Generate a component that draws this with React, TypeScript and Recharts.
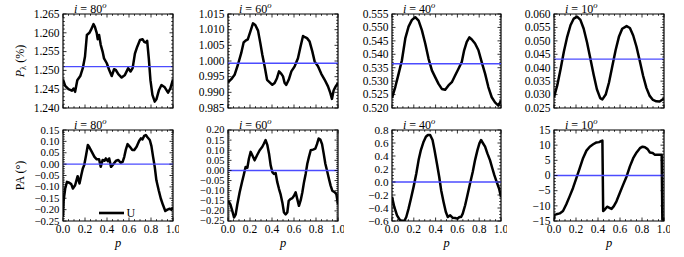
import React from 'react';
import { LineChart, Line, XAxis, YAxis, ReferenceLine, ReferenceArea, Legend } from 'recharts';

const FONT = '"Liberation Serif", "Times New Roman", serif';

// ---------- data (phase p, value) ----------
const p80P = [0,0.02,0.05,0.08,0.096,0.11,0.13,0.157,0.18,0.2,0.217,0.24,0.253,0.277,0.29,0.307,0.316,0.328,0.343,0.36,0.373,0.398,0.42,0.443,0.464,0.48,0.503,0.533,0.563,0.593,0.614,0.633,0.654,0.675,0.7,0.723,0.738,0.753,0.765,0.78,0.795,0.813,0.834,0.849,0.873,0.895,0.925,0.955,0.976,1.0];
const pol80 = [1.2476,1.2459,1.2450,1.2446,1.2452,1.2443,1.2474,1.2485,1.2506,1.2537,1.2594,1.2600,1.2607,1.2623,1.2616,1.2599,1.2583,1.2594,1.2568,1.2550,1.2532,1.2519,1.2501,1.2485,1.2503,1.2501,1.2490,1.2481,1.2488,1.2506,1.2497,1.2506,1.2545,1.2563,1.2581,1.2583,1.2576,1.2574,1.2579,1.2532,1.2474,1.2435,1.2417,1.2423,1.2448,1.2461,1.2455,1.2441,1.2452,1.2476];

const p60P = [0,0.03,0.06,0.09,0.12,0.142,0.16,0.18,0.203,0.227,0.248,0.273,0.294,0.312,0.333,0.355,0.379,0.403,0.424,0.445,0.464,0.485,0.5,0.515,0.53,0.552,0.576,0.606,0.636,0.658,0.682,0.7,0.718,0.742,0.767,0.788,0.818,0.848,0.879,0.909,0.93,0.945,0.96,0.979,1.0];
const pol60 = [0.9932,0.9942,0.9956,0.9988,1.0025,1.0059,1.0065,1.0069,1.0094,1.0120,1.0115,1.0097,1.0057,1.0020,0.9983,0.9940,0.9932,0.9924,0.9930,0.9945,0.9967,0.9959,0.9951,0.9930,0.9924,0.9940,0.9967,0.9983,1.0009,1.0044,1.0080,1.0076,1.0073,1.0062,1.0030,0.9998,0.9983,0.9959,0.9940,0.9919,0.9898,0.9879,0.9906,0.9919,0.9930];

const p40P = [0,0.03,0.061,0.091,0.122,0.152,0.183,0.213,0.244,0.274,0.305,0.335,0.366,0.396,0.427,0.457,0.488,0.518,0.549,0.579,0.61,0.64,0.662,0.686,0.71,0.732,0.762,0.793,0.823,0.854,0.884,0.915,0.945,0.976,1.0];
const pol40 = [0.5238,0.5278,0.5328,0.5378,0.5459,0.5503,0.5528,0.5538,0.5525,0.5490,0.5440,0.5384,0.5340,0.5315,0.5290,0.5271,0.5268,0.5284,0.5296,0.5321,0.5346,0.5371,0.5415,0.5446,0.5463,0.5455,0.5440,0.5415,0.5371,0.5328,0.5278,0.5240,0.5221,0.5209,0.5228];

const p10P = [0,0.03,0.06,0.09,0.12,0.15,0.18,0.21,0.24,0.27,0.30,0.33,0.36,0.39,0.42,0.44,0.47,0.50,0.53,0.56,0.59,0.62,0.66,0.69,0.72,0.75,0.78,0.81,0.84,0.87,0.90,0.93,0.96,1.0];
const pol10 = [0.0290,0.0335,0.0395,0.0460,0.0515,0.0558,0.0583,0.0590,0.0578,0.0545,0.0495,0.0435,0.0375,0.0320,0.0287,0.0282,0.0300,0.0345,0.0405,0.0465,0.0515,0.0545,0.0555,0.0548,0.0520,0.0478,0.0425,0.0370,0.0325,0.0295,0.0280,0.0275,0.0274,0.0285];

const pa80P = [0,0.006,0.02,0.036,0.057,0.075,0.09,0.11,0.133,0.15,0.166,0.18,0.193,0.21,0.226,0.24,0.262,0.286,0.307,0.328,0.343,0.36,0.377,0.39,0.407,0.42,0.437,0.458,0.482,0.503,0.524,0.542,0.557,0.572,0.587,0.608,0.63,0.648,0.669,0.693,0.708,0.723,0.738,0.753,0.768,0.789,0.804,0.819,0.834,0.849,0.87,0.889,0.91,0.93,0.949,0.97,0.985,1.0];
const pa80 = [-0.23,-0.159,-0.107,-0.078,-0.082,-0.088,-0.107,-0.093,-0.053,-0.085,-0.049,-0.019,-0.004,0.040,0.084,0.074,0.054,0.032,0.021,0.021,-0.012,0.018,0.015,0.025,0.013,0.025,-0.012,0.000,0.015,0.018,0.006,0.010,0.032,0.065,0.088,0.076,0.062,0.062,0.076,0.103,0.113,0.109,0.124,0.128,0.118,0.106,0.079,0.032,-0.012,-0.071,-0.115,-0.151,-0.181,-0.206,-0.200,-0.196,-0.200,-0.191];

const pa60P = [0,0.021,0.039,0.055,0.07,0.085,0.106,0.127,0.142,0.16,0.176,0.19,0.206,0.221,0.242,0.264,0.288,0.312,0.327,0.342,0.358,0.373,0.388,0.403,0.418,0.433,0.448,0.464,0.479,0.494,0.509,0.524,0.539,0.552,0.567,0.585,0.6,0.615,0.63,0.645,0.661,0.676,0.691,0.706,0.721,0.736,0.752,0.773,0.794,0.809,0.824,0.839,0.855,0.87,0.885,0.9,0.918,0.933,0.948,0.97,0.985,1.0];
const pa60 = [-0.15,-0.167,-0.20,-0.232,-0.217,-0.167,-0.108,-0.058,-0.025,0.017,0.013,0.058,0.092,0.075,0.05,0.075,0.10,0.117,0.133,0.15,0.125,0.083,0.025,-0.008,-0.017,-0.013,-0.058,-0.092,-0.12,-0.158,-0.208,-0.217,-0.208,-0.15,-0.142,-0.137,-0.125,-0.108,-0.142,-0.175,-0.147,-0.108,-0.058,-0.017,0.033,0.067,0.10,0.103,0.108,0.13,0.158,0.153,0.13,0.083,0.033,0.0,-0.042,-0.075,-0.10,-0.108,-0.117,-0.167];

const pa40P = [0,0.021,0.046,0.07,0.091,0.113,0.131,0.152,0.174,0.198,0.223,0.244,0.265,0.29,0.311,0.329,0.35,0.372,0.39,0.412,0.433,0.451,0.473,0.494,0.512,0.534,0.555,0.579,0.6,0.619,0.634,0.649,0.671,0.692,0.716,0.741,0.762,0.784,0.802,0.817,0.832,0.854,0.875,0.899,0.921,0.939,0.96,0.982,1.0];
const pa40 = [-0.229,-0.384,-0.512,-0.579,-0.6,-0.6,-0.538,-0.41,-0.255,-0.075,0.131,0.337,0.491,0.62,0.697,0.723,0.723,0.646,0.491,0.285,0.08,-0.126,-0.306,-0.461,-0.538,-0.512,-0.549,-0.554,-0.564,-0.538,-0.538,-0.487,-0.358,-0.204,-0.024,0.157,0.337,0.491,0.594,0.646,0.604,0.543,0.44,0.337,0.208,0.105,0.002,-0.1,-0.229];

const pa10P = [0,0.005,0.021,0.052,0.082,0.112,0.143,0.173,0.204,0.234,0.264,0.295,0.325,0.356,0.386,0.41,0.432,0.44,0.447,0.462,0.483,0.5,0.523,0.544,0.568,0.599,0.629,0.66,0.69,0.72,0.751,0.781,0.805,0.827,0.851,0.872,0.897,0.918,0.948,0.979,0.985,1.0];
const pa10 = [-14.5,-13.0,-12.8,-12.5,-11.7,-9.5,-6.8,-4.1,-0.8,2.45,5.7,8.2,9.5,10.3,10.9,11.0,11.4,11.5,-11.7,-11.2,-10.3,-10.6,-11.0,-10.1,-8.5,-5.7,-3.0,-0.3,3.0,5.7,7.6,9.0,9.5,9.3,8.7,7.6,7.4,6.8,6.8,6.8,-14.5,-14.5];

// mean levels (blue lines)
const means = { pol80: 1.2510, pol60: 0.9993, pol40: 0.5365, pol10: 0.0432, pa: 0 };

// ---------- tick labels ----------
const xMajor = [0, 0.2, 0.4, 0.6, 0.8, 1.0];
const yPol80 = [1.240, 1.245, 1.250, 1.255, 1.260, 1.265];
const yPol60 = [0.985, 0.990, 0.995, 1.000, 1.005, 1.010, 1.015];
const yPol40 = [0.520, 0.525, 0.530, 0.535, 0.540, 0.545, 0.550, 0.555];
const yPol10 = [0.025, 0.030, 0.035, 0.040, 0.045, 0.050, 0.055, 0.060];
const yPa80 = [-0.25, -0.20, -0.15, -0.10, -0.05, 0.00, 0.05, 0.10, 0.15];
const yPa60 = [-0.25, -0.20, -0.15, -0.10, -0.05, 0.00, 0.05, 0.10, 0.15, 0.20];
const yPa40 = [-0.6, -0.4, -0.2, 0.0, 0.2, 0.4, 0.6, 0.8];
const yPa10 = [-15, -10, -5, 0, 5, 10, 15];
const titles = ['80', '60', '40', '10'];

const zip = (ps: number[], vs: number[]) => {
  const n = Math.min(ps.length, vs.length);
  const out: { p: number; v: number }[] = [];
  for (let i = 0; i < n; i++) out.push({ p: ps[i], v: vs[i] });
  return out;
};

const range = (min: number, max: number, step: number) => {
  const n = Math.round((max - min) / step);
  const out: number[] = [];
  for (let i = 0; i <= n; i++) out.push(+(min + i * step).toFixed(6));
  return out;
};

const fmt = (v: number, d: number) => (v < -1e-12 ? '\u2212' : '') + Math.abs(v).toFixed(d);

const ML = 52;
const MR = 6;
const MT = 10;

type PanelProps = {
  left: number; top: number; w: number; h: number;
  data: { p: number; v: number }[];
  yMajor: number[]; yMinorStep: number; yDec: number; yFont: number;
  mean: number; showX: boolean; legend?: boolean;
};

function Panel({ left, top, w, h, data, yMajor, yMinorStep, yDec, yFont, mean, showX, legend }: PanelProps) {
  const MB = showX ? 22 : 8;
  const width = ML + w + MR;
  const height = MT + h + MB;
  const boxL = ML, boxR = ML + w, boxT = MT, boxB = MT + h;
  const yMin = yMajor[0], yMax = yMajor[yMajor.length - 1];
  const yTicks = range(yMin, yMax, yMinorStep);
  const xTicks = range(0, 1, 0.05);
  const isMaj = (v: number, arr: number[], tol: number) => arr.some((m) => Math.abs(m - v) < tol);
  const yTol = yMinorStep / 10;

  const YTick = (props: any) => {
    const { y, payload } = props;
    const v = payload.value;
    const major = isMaj(v, yMajor, yTol);
    const len = major ? 3.5 : 1.8;
    return (
      <g>
        <line x1={boxL} x2={boxL + len} y1={y} y2={y} stroke="#000" strokeWidth={0.8} />
        <line x1={boxR} x2={boxR - len} y1={y} y2={y} stroke="#000" strokeWidth={0.8} />
        {major && (
          <text x={boxL - 3.5} y={y + yFont * 0.33} textAnchor="end" fontSize={yFont} fontFamily={FONT} fill="#000">
            {fmt(v, yDec)}
          </text>
        )}
      </g>
    );
  };

  const XTick = (props: any) => {
    const { x, payload } = props;
    const v = payload.value;
    const major = isMaj(v, xMajor, 0.005);
    const len = major ? 3.5 : 1.8;
    return (
      <g>
        <line x1={x} x2={x} y1={boxB} y2={boxB - len} stroke="#000" strokeWidth={0.8} />
        <line x1={x} x2={x} y1={boxT} y2={boxT + len} stroke="#000" strokeWidth={0.8} />
        {showX && major && (
          <text x={x} y={boxB + 12} textAnchor="middle" fontSize={11.5} fontFamily={FONT} fill="#000">
            {fmt(v, 1)}
          </text>
        )}
      </g>
    );
  };

  const LegendContent = (props: any) => {
    const name = props.payload && props.payload[0] ? props.payload[0].value : 'U';
    return (
      <svg width={44} height={14} style={{ display: 'block' }}>
        <line x1={0} x2={25} y1={7} y2={7} stroke="#000" strokeWidth={2.6} />
        <text x={27.5} y={11} fontSize={12} fontFamily={FONT} fill="#000">{name}</text>
      </svg>
    );
  };

  return (
    <div style={{ position: 'absolute', left: left - ML, top: top - MT }}>
      <LineChart width={width} height={height} data={data} margin={{ top: MT, right: MR, left: 0, bottom: 0 }}>
        <XAxis
          dataKey="p" type="number" domain={[0, 1]} ticks={xTicks} interval={0}
          tickSize={0} tickMargin={0} axisLine={false} tickLine={false} tick={XTick}
          height={MB} allowDataOverflow
        />
        <YAxis
          type="number" domain={[yMin, yMax]} ticks={yTicks} interval={0}
          tickSize={0} tickMargin={0} axisLine={false} tickLine={false} tick={YTick}
          width={ML} allowDataOverflow
        />
        <Line
          dataKey="v" name="U" type="linear" stroke="#000" strokeWidth={2.5} dot={false}
          activeDot={false} strokeLinejoin="round" isAnimationActive={false}
        />
        <ReferenceLine y={mean} stroke="#4b4bff" strokeWidth={1.4} />
        <ReferenceArea x1={0} x2={1} y1={yMin} y2={yMax} fill="none" fillOpacity={0} stroke="#000" strokeWidth={1.2} />
        {legend && (
          <Legend
            layout="horizontal" verticalAlign="middle" align="center"
            wrapperStyle={{ left: 88, top: MT + 76, width: 44, height: 14, lineHeight: 0 }}
            content={LegendContent}
          />
        )}
      </LineChart>
    </div>
  );
}

const cols = [
  { left: 63, w: 110 },
  { left: 228, w: 110 },
  { left: 392, w: 109 },
  { left: 554, w: 110 },
];
const TOP_ROW = { top: 14, h: 94 };
const BOT_ROW = { top: 130, h: 91 };

const Title = ({ x, y, deg }: { x: number; y: number; deg: string }) => (
  <text x={x} y={y} fontSize={12} fontFamily={FONT} fill="#000">
    <tspan fontStyle="italic">i</tspan>
    <tspan> = {deg}</tspan>
    <tspan fontStyle="italic" fontSize={8.5} dy={-4.5}>o</tspan>
  </text>
);

export default function App() {
  const topSpecs = [
    { data: zip(p80P, pol80), yMajor: yPol80, mean: means.pol80 },
    { data: zip(p60P, pol60), yMajor: yPol60, mean: means.pol60 },
    { data: zip(p40P, pol40), yMajor: yPol40, mean: means.pol40 },
    { data: zip(p10P, pol10), yMajor: yPol10, mean: means.pol10 },
  ];
  const botSpecs = [
    { data: zip(pa80P, pa80), yMajor: yPa80, step: 0.01, dec: 2, font: 10.8 },
    { data: zip(pa60P, pa60), yMajor: yPa60, step: 0.01, dec: 2, font: 10.5 },
    { data: zip(pa40P, pa40), yMajor: yPa40, step: 0.05, dec: 1, font: 11.2 },
    { data: zip(pa10P, pa10), yMajor: yPa10, step: 1, dec: 0, font: 11.5 },
  ];
  return (
    <div style={{ position: 'absolute', left: 0, top: 0, width: 684, height: 257, background: '#fff', overflow: 'hidden' }}>
      {topSpecs.map((s, i) => (
        <Panel key={'t' + i} left={cols[i].left} top={TOP_ROW.top} w={cols[i].w} h={TOP_ROW.h}
          data={s.data} yMajor={s.yMajor} yMinorStep={0.001} yDec={3} yFont={11.5} mean={s.mean} showX={false} />
      ))}
      {botSpecs.map((s, i) => (
        <Panel key={'b' + i} left={cols[i].left} top={BOT_ROW.top} w={cols[i].w} h={BOT_ROW.h}
          data={s.data} yMajor={s.yMajor} yMinorStep={s.step} yDec={s.dec} yFont={s.font} mean={means.pa} showX={true} legend={i === 0} />
      ))}
      <svg width={684} height={257} style={{ position: 'absolute', left: 0, top: 0, pointerEvents: 'none' }}>
        {cols.map((c, i) => (
          <Title key={'tt' + i} x={c.left + 0.1 * c.w} y={TOP_ROW.top - 1.5} deg={titles[i]} />
        ))}
        {cols.map((c, i) => (
          <Title key={'bt' + i} x={c.left + 0.1 * c.w} y={BOT_ROW.top - 1.5} deg={titles[i]} />
        ))}
        {cols.map((c, i) => (
          <text key={'xl' + i} x={c.left + c.w / 2} y={247} textAnchor="middle" fontSize={12.5} fontStyle="italic" fontFamily={FONT} fill="#000">p</text>
        ))}
        <text transform={`translate(23.5, ${TOP_ROW.top + TOP_ROW.h / 2}) rotate(-90)`} textAnchor="middle" fontSize={12} fontFamily={FONT} fill="#000">
          <tspan fontStyle="italic">P</tspan>
          <tspan fontSize={8.5} dy={2.5}>λ</tspan>
          <tspan dy={-2.5}> (%)</tspan>
        </text>
        <text transform={`translate(23.5, ${BOT_ROW.top + BOT_ROW.h / 2}) rotate(-90)`} textAnchor="middle" fontSize={12} fontFamily={FONT} fill="#000">
          PA (°)
        </text>
      </svg>
    </div>
  );
}
